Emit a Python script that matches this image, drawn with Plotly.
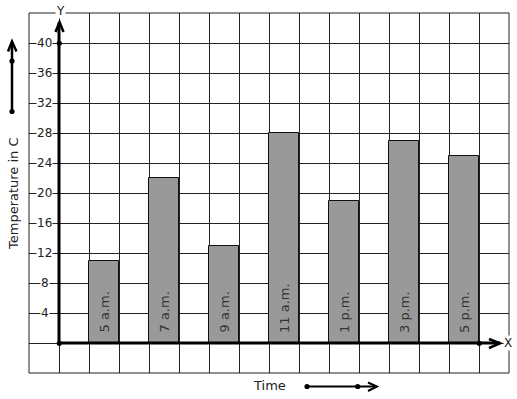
import plotly.graph_objects as go

# ---- data ----
times = ["5 a.m.", "7 a.m.", "9 a.m.", "11 a.m.", "1 p.m.", "3 p.m.", "5 p.m."]
temps = [11, 22, 13, 28, 19, 27, 25]
x_pos = [1.5, 3.5, 5.5, 7.5, 9.5, 11.5, 13.5]
y_ticks = [4, 8, 12, 16, 20, 24, 28, 32, 36, 40]

W, H = 517, 399
L, T, PW, PH = 29, 13, 480, 360
FONT = "DejaVu Sans"


def P(px, py):
    return (px - L) / PW, (T + PH - py) / PH


fig = go.Figure()
fig.add_trace(go.Bar(
    x=x_pos, y=temps, width=1,
    marker=dict(color="#999999", line=dict(color="#111111", width=1)),
    hoverinfo="skip", showlegend=False,
))

shapes = []
annotations = []

# border
shapes.append(dict(type="rect", xref="paper", yref="paper", x0=0, y0=0, x1=1, y1=1,
                   line=dict(color="#222222", width=1), layer="above"))

# y axis line + arrow
shapes.append(dict(type="line", xref="x", yref="y", x0=0, y0=0, x1=0, y1=42.7,
                   line=dict(color="black", width=3), layer="above"))
a = P(55.5, 32); b = P(59.5, 22); c = P(63.5, 32)
shapes.append(dict(type="path", xref="paper", yref="paper",
                   path=f"M {a[0]},{a[1]} L {b[0]},{b[1]} L {c[0]},{c[1]}",
                   line=dict(color="black", width=2.5), layer="above"))
# x axis line + arrow
shapes.append(dict(type="line", xref="x", yref="y", x0=0, y0=0, x1=14.7, y1=0,
                   line=dict(color="black", width=3), layer="above"))
a = P(489, 339); b = P(500, 343.3); c = P(489, 348)
shapes.append(dict(type="path", xref="paper", yref="paper",
                   path=f"M {a[0]},{a[1]} L {b[0]},{b[1]} L {c[0]},{c[1]}",
                   line=dict(color="black", width=2.5), layer="above"))

# left decorative arrow
a = P(12, 111.5); b = P(12, 42)
shapes.append(dict(type="line", xref="paper", yref="paper", x0=a[0], y0=a[1], x1=b[0], y1=b[1],
                   line=dict(color="black", width=2.5), layer="above"))
a = P(8, 51.5); b = P(12, 41.5); c = P(16.5, 51.5)
shapes.append(dict(type="path", xref="paper", yref="paper",
                   path=f"M {a[0]},{a[1]} L {b[0]},{b[1]} L {c[0]},{c[1]}",
                   line=dict(color="black", width=2.5), layer="above"))
# bottom decorative arrow
a = P(307, 386.5); b = P(376, 386.5)
shapes.append(dict(type="line", xref="paper", yref="paper", x0=a[0], y0=a[1], x1=b[0], y1=b[1],
                   line=dict(color="black", width=2), layer="above"))
a = P(368, 382.5); b = P(377, 386.5); c = P(368, 391)
shapes.append(dict(type="path", xref="paper", yref="paper",
                   path=f"M {a[0]},{a[1]} L {b[0]},{b[1]} L {c[0]},{c[1]}",
                   line=dict(color="black", width=2), layer="above"))

# dots
r = 2.6
for (px, py) in [(59.3, 43.3), (59.3, 343.3), (479.3, 343.3), (12, 61), (12, 111.5), (307, 386.5), (357.7, 386.5)]:
    p0 = P(px - r, py + r); p1 = P(px + r, py - r)
    shapes.append(dict(type="circle", xref="paper", yref="paper", x0=p0[0], y0=p0[1], x1=p1[0], y1=p1[1],
                       fillcolor="black", line=dict(color="black", width=0), layer="above"))

# tick labels with white background
for v in y_ticks:
    annotations.append(dict(x=-0.47, y=v, xref="x", yref="y", text=str(v), showarrow=False,
                            font=dict(family=FONT, size=12, color="#222222"),
                            bgcolor="white", borderpad=0, xanchor="center", yanchor="middle"))

# bar labels
for xp, t in zip(x_pos, times):
    annotations.append(dict(x=xp, y=0, xref="x", yref="y", text=t, showarrow=False, textangle=-90,
                            font=dict(family=FONT, size=13, color="#333333"),
                            xanchor="center", yanchor="bottom", yshift=8))

# axis letters
px, py = P(60.7, 10.5)
annotations.append(dict(x=px, y=py, xref="paper", yref="paper", text="Y", showarrow=False,
                        font=dict(family=FONT, size=12, color="#222222"), bgcolor="white", borderpad=0,
                        xanchor="center", yanchor="middle"))
px, py = P(508, 342.5)
annotations.append(dict(x=px, y=py, xref="paper", yref="paper", text="X", showarrow=False,
                        font=dict(family=FONT, size=12, color="#222222"), bgcolor="white", borderpad=0,
                        xanchor="center", yanchor="middle"))

# titles
px, py = P(13, 194)
annotations.append(dict(x=px, y=py, xref="paper", yref="paper", text="Temperature in C", showarrow=False,
                        textangle=-90, font=dict(family=FONT, size=13, color="#222222"),
                        xanchor="center", yanchor="middle"))
px, py = P(269, 385)
annotations.append(dict(x=px, y=py, xref="paper", yref="paper", text="Time", showarrow=False,
                        font=dict(family=FONT, size=13, color="#222222"),
                        xanchor="center", yanchor="middle"))

fig.update_layout(
    width=W, height=H,
    margin=dict(l=L, r=W - L - PW, t=T, b=H - T - PH, pad=0),
    paper_bgcolor="white", plot_bgcolor="white",
    xaxis=dict(range=[-1, 15], tick0=-1, dtick=1, showgrid=True, gridcolor="#222222", gridwidth=1,
               showticklabels=False, zeroline=False, ticks="", fixedrange=True),
    yaxis=dict(range=[-4, 44], tick0=-4, dtick=4, showgrid=True, gridcolor="#222222", gridwidth=1,
               showticklabels=False, zeroline=False, ticks="", fixedrange=True),
    shapes=shapes, annotations=annotations, bargap=0,
)

fig.write_html("out.html", config={"displayModeBar": False},
               post_script="document.body.style.margin='0';document.body.style.overflow='hidden';")
